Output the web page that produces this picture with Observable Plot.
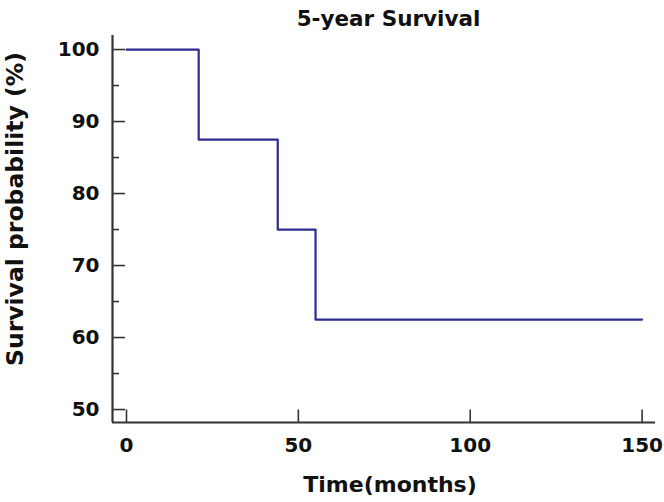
<!DOCTYPE html>
<html>
<head>
<meta charset="utf-8">
<script src="https://cdn.jsdelivr.net/npm/d3@7"></script>
<script src="https://cdn.jsdelivr.net/npm/@observablehq/plot@0.6"></script>
<style>
  html, body { margin: 0; padding: 0; background: #fff; }
</style>
</head>
<body>
<div id="chart"></div>
<script>
const titleText = "5-year Survival";
const xLabel = "Time(months)";
const yLabel = "Survival probability (%)";
const times = [0, 21, 44, 55, 150];
const survival = [100, 87.5, 75, 62.5, 62.5];
const xTicks = [0, 50, 100, 150];
const yTicks = [50, 60, 70, 80, 90, 100];
const yMinorTicks = [55, 65, 75, 85, 95];
const xDomain = [-4.07, 153.9];
const yDomain = [48.2, 101.95];

const W = 664, H = 502;
const mL = 112, mR = 9, mT = 35, mB = 80;
const innerW = W - mL - mR, innerH = H - mT - mB;
const rows = times.map((t, i) => ({t, s: survival[i]}));
const font = "'DejaVu Sans', 'Liberation Sans', Arial, sans-serif";
const ink = "#333";

const chart = Plot.plot({
  width: W, height: H,
  marginLeft: mL, marginRight: mR, marginTop: mT, marginBottom: mB,
  x: {domain: xDomain, axis: null},
  y: {domain: yDomain, axis: null},
  style: {fontFamily: font, color: "#111", background: "#fff"},
  marks: [
    Plot.line(rows, {x: "t", y: "s", curve: "step-after", stroke: "#2e2b8f", strokeWidth: 2.2}),
    Plot.ruleX([xDomain[0]], {stroke: ink, strokeWidth: 2.2}),
    Plot.ruleY([yDomain[0]], {stroke: ink, strokeWidth: 2.2}),
    Plot.ruleX(xTicks, {x: d => d, insetTop: innerH - 12.5, stroke: ink, strokeWidth: 1.6}),
    Plot.ruleY(yTicks, {y: d => d, insetRight: innerW - 13, stroke: ink, strokeWidth: 1.6}),
    Plot.ruleY(yMinorTicks, {y: d => d, insetRight: innerW - 7, stroke: ink, strokeWidth: 1.6}),
    Plot.text(xTicks, {x: d => d, text: d => String(d), frameAnchor: "bottom", dy: 29, fontSize: 20, fontWeight: "bold", fill: "#111"}),
    Plot.text(yTicks, {y: d => d, text: d => String(d), frameAnchor: "left", textAnchor: "end", dx: -13, fontSize: 20, fontWeight: "bold", fill: "#111"}),
    Plot.text([xLabel], {text: d => d, frameAnchor: "bottom", dx: 6, dy: 69, fontSize: 22, fontWeight: "bold", fill: "#111"}),
    Plot.text([yLabel], {text: d => d, frameAnchor: "left", textAnchor: "middle", rotate: -90, dx: -97, dy: -20, fontSize: 23.5, fontWeight: "bold", fill: "#111"}),
    Plot.text([titleText], {text: d => d, frameAnchor: "top", dx: 4.5, dy: -25, fontSize: 21.5, fontWeight: "bold", fill: "#111"})
  ]
});
document.getElementById("chart").appendChild(chart);
</script>
</body>
</html>
